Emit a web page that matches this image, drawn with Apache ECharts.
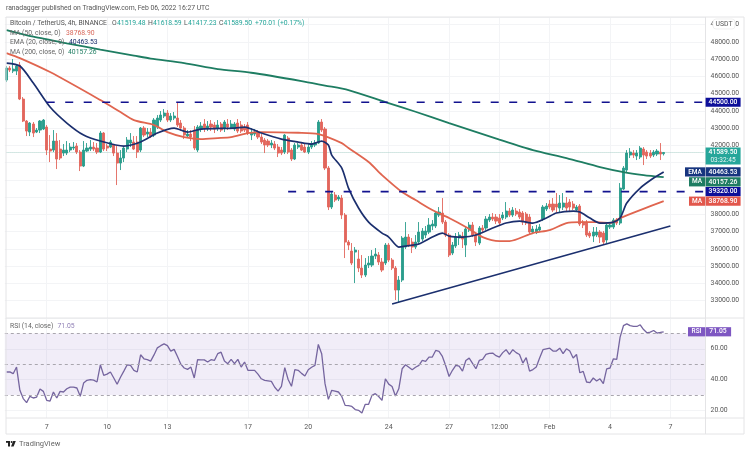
<!DOCTYPE html>
<html>
<head>
<meta charset="utf-8">
<title>BTC/USDT 4h</title>
<script src="https://cdn.jsdelivr.net/npm/echarts@6/dist/echarts.min.js"></script>
<style>
html, body { margin: 0; padding: 0; background: #fff; }
#chart { width: 750px; height: 454px; }
</style>
</head>
<body>
<div id="chart"></div>
<script>
// x axis: one slot per 4h candle, labels only on a few of them
const slotCount = 209;
const xTickIndex = [12, 30, 48, 72, 90, 114, 132, 147, 162, 180, 198];
const xTickText = ['7', '10', '13', '17', '20', '24', '27', '12:00', 'Feb', '4', '7'];
const priceTicks = [33000, 34000, 35000, 36000, 37000, 38000, 42000, 43000, 44000, 45000, 46000, 47000, 48000, 49000];
const rsiTicks = [20, 40, 60];

const opens = [
  45787,46482,46308,46308,46656,44686,43411,42774,43237,42774,
  42890,42948,43064,41789,41731,42252,41789,41557,41557,41731,
  41847,41963,41615,40804,41673,41789,41905,41847,41615,42716,
  41963,41905,42021,41557,40978,41268,41789,42137,42195,42195,
  41731,43006,42658,42774,42600,43064,43469,43701,43875,43469,
  43585,43585,43295,43006,42542,42658,42890,41731,42948,43237,
  43006,43237,43180,43006,43237,43006,43237,43006,42948,43295,
  43180,43064,43180,42600,42658,42716,42484,42310,42252,42021,
  42079,41905,41731,41615,42426,41731,41210,41905,42021,41905,
  41615,41905,42021,42137,43353,42948,40688,38428,39124,38892,
  38950,37965,36400,35879,35821,35416,34894,34489,35068,35068,
  35589,35647,35242,35184,36227,35358,34894,33619,34199,36111,
  36690,36400,36111,36400,36574,36806,36980,37328,37328,37965,
  38081,37559,36806,35763,36169,36632,36748,36227,37096,37386,
  36806,36343,37212,37212,37675,37849,37849,37791,37791,37849,
  38197,37965,38197,38139,38081,38023,37849,36980,36980,37096,
  37733,38313,38602,38602,38602,38371,38428,38660,38718,38602,
  38255,38487,37559,37559,36922,36748,36806,36980,36922,36516,
  37270,37270,37675,37501,39471,40572,41441,41557,41383,41326,
  41789,41615,41557,41441,41499,41615,41519
];
const closes = [
  46482,46366,46424,46598,44686,43411,42832,43295,42716,42890,
  43411,43469,41731,41673,42252,41210,41268,41731,41731,41905,
  41905,41615,40804,41731,41847,41905,41789,41615,42716,41789,
  41847,42195,41557,40978,41268,41847,42310,42310,41789,41615,
  43006,42600,42774,42542,43469,43585,43759,43875,43469,43701,
  43701,43180,43006,42600,42658,42484,41847,43064,43122,43006,
  43122,43064,42948,43180,42890,43353,43064,43237,43237,42832,
  42832,42890,42716,42716,42774,42484,42195,42021,42021,42137,
  41847,41557,41557,42600,41615,41210,42021,42021,41731,41615,
  41905,42079,42137,43353,42890,40688,38428,39182,38834,39008,
  37965,36400,36227,35184,35937,34894,34489,35068,35184,35589,
  35705,35242,34778,36227,35358,34894,33619,34199,36632,36690,
  36227,36111,36400,36980,37038,37038,37386,37444,38081,38139,
  37559,36806,35647,36227,36690,36806,36574,37154,37386,36806,
  36400,37212,37096,37733,37849,37733,37617,37501,37965,38197,
  37965,38255,38023,37849,37559,37501,36980,37154,37154,37270,
  38428,38487,38428,38255,38428,38660,38660,38371,38428,38371,
  38428,37444,37386,36806,36748,36980,36980,36690,36400,37386,
  37386,37675,37501,39529,40688,41557,41615,41441,41557,41847,
  41441,41383,41383,41615,41673,41499,41590
];
const lows = [
  45671,46250,46192,46077,44628,43353,42542,42542,42484,42716,
  42716,42890,41441,41036,41615,40630,41152,41383,41441,41615,
  41731,41499,40514,40746,41615,41673,41673,41499,41557,41673,
  41673,41847,41383,39703,40572,41036,41615,41905,41731,41268,
  41615,42484,42484,42426,42484,42948,43353,43585,43353,43353,
  43469,43064,42832,42368,42426,42252,41731,41615,42774,42774,
  42832,42832,42716,42832,42774,42774,42890,42948,42832,42716,
  42716,42774,42600,42310,42542,42368,42079,41557,41905,41847,
  41731,41326,41441,41499,41499,41094,41152,41789,41673,41557,
  41499,41789,41905,42079,42774,40572,38255,38313,38718,38776,
  37733,35473,35937,35068,34025,34662,34315,34373,34894,34952,
  35416,35068,34662,35068,35242,34778,33040,32924,34083,35995,
  36111,35763,35995,36285,36458,36632,36864,37096,37212,37849,
  37444,36690,35531,35647,36053,36227,36053,35531,36980,36690,
  36169,36227,36922,37096,37559,37617,37444,37328,37675,37733,
  37849,37849,37907,37733,37386,37386,36864,36864,36864,36980,
  37617,38197,38313,38139,38081,38139,38255,38197,38139,38255,
  38139,37328,37212,36690,36632,36400,36690,36343,36285,36343,
  37154,37154,37386,37386,39413,40456,41268,41268,41152,41210,
  40862,41210,41268,41326,41383,41152,41417
];
const highs = [
  46598,46598,47004,46714,46830,44802,43469,43353,43353,43006,
  43469,43527,43180,42600,42890,42716,42310,42079,42252,42137,
  42195,42137,41731,42252,42137,42310,42195,42137,42832,42774,
  42079,42310,42079,41963,41731,41963,42484,42716,42542,42542,
  43064,43122,43006,43006,43585,43759,43991,44106,44049,43875,
  43933,44512,43469,43122,42890,42890,43122,43180,43353,43527,
  43411,43469,43353,43469,43353,43469,43527,43469,43353,43527,
  43411,43237,43353,43006,42948,42890,42658,42426,42368,42310,
  42252,42079,41905,42658,42542,41847,42137,42137,42195,42079,
  42079,42252,42310,43469,43527,43064,40804,39298,39298,39124,
  39124,38081,36516,36343,36111,35937,35647,35473,35589,35937,
  36053,35821,35473,36343,36343,35473,35010,34431,36748,37559,
  36864,36632,36806,37559,37212,37328,37791,37675,38197,38428,
  38950,37675,36922,36400,36922,36980,36980,37270,37559,37559,
  36922,37328,37386,37907,38023,38081,38023,38023,38139,38718,
  38371,38428,38371,38313,38197,38139,38023,37328,37386,37444,
  38545,38660,38834,38950,39240,39124,39240,39008,38892,38776,
  38545,38602,37675,37675,37038,37270,37270,37096,37038,37501,
  37559,37791,37791,39819,40804,41731,41847,41731,41731,41963,
  41905,41731,41731,41731,41789,42137,41619
];

// [candle index, price]
const ma200 = [
  [0,48684],[8,48296],[18,47913],[28,47554],[38,47206],[43,47030],[53,46772],[63,46424],
  [73,46210],[88,45729],[95,45468],[102,45207],[113,44512],[122,43950],[132,43295],
  [147,42339],[157,41731],[167,41268],[177,40746],[184,40456],[190,40283],[196,40157]
];
const ma50 = [
  [0,47351],[4,47061],[13,46250],[28,44628],[34,43933],[38,43469],[44,43180],[48,42774],
  [53,42484],[58,42368],[63,42426],[67,42484],[72,42716],[76,42774],[87,42733],[93,42658],
  [100,42136],[102,41847],[108,41036],[112,40282],[118,39297],[122,38834],[127,38255],
  [132,37791],[137,37270],[142,36690],[147,36458],[150,36458],[157,36922],[162,37096],
  [167,37501],[171,37559],[176,37559],[180,37501],[183,37791],[189,38255],[196,38769]
];
const ema20 = [
  [0,46772],[4,46598],[8,45613],[13,44222],[18,43295],[23,42600],[28,42253],[35,41963],
  [40,42195],[45,42716],[50,43006],[54,42774],[58,42948],[68,43006],[71,43064],[76,42716],
  [82,42368],[87,42195],[91,42079],[94,42253],[96,42021],[97,41441],[100,40688],[102,39529],
  [105,38371],[108,37559],[112,36921],[114,36690],[117,36111],[119,36169],[123,36285],
  [127,36690],[130,36922],[132,36748],[136,36690],[140,36806],[145,37212],[149,37502],
  [153,37617],[157,37502],[161,37792],[164,38081],[169,38197],[171,38139],[174,37792],
  [177,37502],[181,37559],[183,37792],[185,38660],[189,39529],[193,40109],[196,40464]
];
const trendLine = [[115,32810],[198,37330]];
const upperLevel = [[12,44500],[208,44500]];
const lowerLevel = [[84,39320],[208,39320]];
const lastPrice = 41589.5;

const rsiValues = [
  44.9,45,43.8,48.1,33,27.6,25,29.1,28,28.6,
  33.8,32.3,26.5,26,31.9,28,32.3,31.9,34,35.1,
  35.1,34.5,29.1,37.7,39.5,39.9,39.6,38.4,49.6,42.7,
  43.5,44.9,41,36.9,41.5,45.5,49.6,49.2,46,44.9,
  56.1,53.5,53,52,56,60.6,62,63.2,62,58.5,
  59.6,55,50,47.5,46.6,48.1,41,53,52.8,52.8,
  51.4,52.9,52.4,56.8,57.8,52,50.3,53.1,50.3,53.1,
  48.1,51.4,46,46,46,43.5,40.5,39.5,39.2,38.8,
  35,32.5,35.6,47.7,40,35.6,46.4,46,44,42.3,
  46.4,48,49.2,62.8,56.8,37.3,27.1,33,32.5,31.9,
  29,23.2,23,22.5,20.5,20,18.3,23.9,23.9,29.7,
  30.8,29,26.5,40.5,37,35.5,29.3,34,47,49.6,
  48,46.4,48,49.2,52.4,51.8,54.6,54.6,58.9,58.3,
  55,49,42,46,49.2,48.7,45.5,52.4,53.9,50.5,
  47,52.4,53.1,56.3,57,57.2,55.5,54.6,57.5,59.4,
  56.3,59.4,57.5,56.3,50.7,54.2,45.5,46.5,48.1,54,
  59.4,60,60.4,58.5,58.5,60.4,56.8,60,58.5,54,
  56.3,44.4,45.3,38.4,38,41,39,40.5,37.3,47,
  47.5,53.5,53.1,67.6,75,76.2,75,74.5,74.5,75.6,
  72.5,70.4,70.8,71.9,70.2,70.6,71.05
];
const rsiLevels = [70, 50, 30];

const UP = '#2a9d8c';
const DOWN = '#e2665c';
const NAVY = '#1b2f6e';
const RED_MA = '#e0654f';
const GREEN_MA = '#1e7d62';
const DASH_BLUE = '#12128f';
const GRID = '#f3f4f6';
const FRAME = '#e4e4e6';
const FONT = 'Roboto, sans-serif';

const categories = Array.from({ length: slotCount }, (_, i) => String(i));
const candleData = opens.map((o, i) => [o, closes[i], lows[i], highs[i]]);
const xGridLines = xTickIndex.map(i => ({ xAxis: i }));

const chart = echarts.init(document.getElementById('chart'), null, { renderer: 'canvas' });

function lineSeries(data, color, width, extra) {
  return Object.assign({
    type: 'line',
    data: data,
    showSymbol: false,
    symbol: 'none',
    silent: true,
    lineStyle: { color: color, width: width },
    z: 4
  }, extra || {});
}

function gridMarks(data) {
  return {
    silent: true,
    symbol: 'none',
    label: { show: false },
    lineStyle: { color: GRID, width: 1, type: 'solid' },
    data: data,
    z: 0
  };
}

chart.setOption({
  animation: false,
  backgroundColor: '#fff',
  grid: [
    { left: 4.8, top: 17, width: 700.8, height: 301 },
    { left: 4.8, top: 318, width: 700.8, height: 100 }
  ],
  xAxis: [
    {
      type: 'category', gridIndex: 0, data: categories, boundaryGap: true,
      axisLine: { show: false }, axisTick: { show: false }, axisLabel: { show: false }, splitLine: { show: false }
    },
    {
      type: 'category', gridIndex: 1, data: categories, boundaryGap: true,
      axisLine: { show: false }, axisTick: { show: false }, splitLine: { show: false },
      axisLabel: {
        color: '#555', fontFamily: FONT, fontSize: 7, margin: 6, hideOverlap: false,
        interval: index => xTickIndex.includes(index),
        formatter: (value, index) => xTickText[xTickIndex.indexOf(index)] || ''
      }
    }
  ],
  yAxis: [
    {
      type: 'value', gridIndex: 0, position: 'right', min: 32000, max: 49440, interval: 1000,
      axisLine: { show: false }, axisTick: { show: false },
      splitLine: { lineStyle: { color: GRID, width: 1 } },
      axisLabel: {
        color: '#555', fontFamily: FONT, fontSize: 6.8, margin: 5,
        formatter: value => priceTicks.includes(value) ? value.toFixed(2) : ''
      }
    },
    {
      type: 'value', gridIndex: 1, position: 'right', min: 15, max: 80, interval: 5,
      axisLine: { show: false }, axisTick: { show: false }, splitLine: { show: false },
      axisLabel: {
        color: '#555', fontFamily: FONT, fontSize: 6.8, margin: 5,
        formatter: value => rsiTicks.includes(value) ? value.toFixed(2) : ''
      }
    }
  ],
  series: [
    {
      type: 'candlestick',
      data: candleData,
      barWidth: 2.6,
      silent: true,
      itemStyle: { color: UP, color0: DOWN, borderColor: UP, borderColor0: DOWN, borderWidth: 0.9 },
      markLine: Object.assign(gridMarks(xGridLines), { z: 0 }),
      z: 2
    },
    lineSeries([[0, lastPrice], [208, lastPrice]], '#a9cfc8', 1, { lineStyle: { color: '#a9cfc8', width: 1, type: 'dotted' }, z: 1 }),
    lineSeries(ma200, GREEN_MA, 1.8, { smooth: 0.25 }),
    lineSeries(ma50, RED_MA, 1.8, { smooth: 0.25 }),
    lineSeries(ema20, NAVY, 1.7, { smooth: 0.25 }),
    lineSeries(trendLine, NAVY, 1.6),
    lineSeries(upperLevel, DASH_BLUE, 1.6, { lineStyle: { color: DASH_BLUE, width: 1.6, type: [8, 10.5] } }),
    lineSeries(lowerLevel, DASH_BLUE, 1.6, { lineStyle: { color: DASH_BLUE, width: 1.6, type: [8, 10.5] } }),
    {
      type: 'line',
      xAxisIndex: 1,
      yAxisIndex: 1,
      data: rsiValues,
      showSymbol: false,
      symbol: 'none',
      silent: true,
      lineStyle: { color: '#75659f', width: 1.3 },
      markArea: {
        silent: true,
        itemStyle: { color: 'rgba(126,87,194,0.11)' },
        data: [[{ yAxis: rsiLevels[0] }, { yAxis: rsiLevels[2] }]]
      },
      markLine: {
        silent: true,
        symbol: 'none',
        label: { show: false },
        lineStyle: { color: '#a9a6ae', width: 1, type: [3, 3] },
        data: rsiLevels.map(v => ({ yAxis: v }))
      },
      z: 3
    },
    {
      type: 'line',
      xAxisIndex: 1,
      yAxisIndex: 1,
      data: [],
      silent: true,
      markLine: gridMarks(xGridLines.concat(rsiTicks.map(v => ({ yAxis: v }))))
    }
  ]
});

// last-value tags on the price scale follow the axes, shift moves one clear of its neighbour
function tag(value, gridAxis, text, bg, caption, captionX, shift) {
  const y = chart.convertToPixel({ yAxisIndex: gridAxis }, value) + (shift || 0);
  const items = [
    { type: 'rect', shape: { x: 705.6, y: y - 4.6, width: gridAxis ? 25.5 : 35, height: 9.2 }, style: { fill: bg }, z: 20 },
    { type: 'text', style: { x: gridAxis ? 718 : 723, y: y, text: text, fill: '#fff', font: '500 6.8px ' + FONT, align: 'center', verticalAlign: 'middle' }, z: 21 }
  ];
  if (caption) {
    items.push(
      { type: 'rect', shape: { x: captionX, y: y - 4.6, width: 705 - captionX, height: 9.2 }, style: { fill: bg }, z: 20 },
      { type: 'text', style: { x: (captionX + 705) / 2, y: y, text: caption, fill: '#fff', font: '500 6.5px ' + FONT, align: 'center', verticalAlign: 'middle' }, z: 21 }
    );
  }
  return items;
}

function label(x, y, text, fill, size, weight) {
  return {
    type: 'text',
    style: { x: x, y: y, text: text, fill: fill, font: (weight || 400) + ' ' + (size || 6.8) + 'px ' + FONT, verticalAlign: 'middle' },
    z: 22
  };
}

const frameLine = (x1, y1, x2, y2) => ({
  type: 'line', shape: { x1: x1, y1: y1, x2: x2, y2: y2 }, style: { stroke: FRAME, lineWidth: 1 }, z: 15
});

const priceY = chart.convertToPixel({ yAxisIndex: 0 }, lastPrice);
const volGreen = '#26a69a';

chart.setOption({
  graphic: { elements: [].concat(
    frameLine(6, 17, 744, 17), frameLine(6, 17, 6, 434), frameLine(744, 17, 744, 434),
    frameLine(6, 434, 744, 434), frameLine(6, 318, 744, 318), frameLine(6, 418, 744, 418),
    frameLine(705.5, 17, 705.5, 434),
    tag(44500, 0, '44500.00', '#0d0f9a'),
    tag(40157.26, 0, '40157.26', GREEN_MA, 'MA', 689, 4.6),
    tag(40463.53, 0, '40463.53', '#17357f', 'EMA', 685),
    tag(39320, 0, '39320.00', '#0d0f9a'),
    tag(38768.9, 0, '38768.90', '#e2574c', 'MA', 689),
    tag(71.05, 1, '71.05', '#7e57c2', 'RSI', 688),
    [
      { type: 'rect', shape: { x: 705.6, y: priceY - 5, width: 35, height: 17 }, style: { fill: volGreen }, z: 20 },
      { type: 'text', style: { x: 723, y: priceY, text: '41589.50', fill: '#fff', font: '500 6.8px ' + FONT, align: 'center', verticalAlign: 'middle' }, z: 21 },
      { type: 'text', style: { x: 723, y: priceY + 8, text: '03:32:45', fill: '#e8f6f4', font: '400 6.5px ' + FONT, align: 'center', verticalAlign: 'middle' }, z: 21 },
      { type: 'rect', shape: { x: 713, y: 19, width: 22, height: 10, r: 3 }, style: { fill: '#fff', stroke: '#e6e6e6', lineWidth: 0.6 }, z: 20 },
      { type: 'text', style: { x: 724, y: 24.5, text: 'USDT', fill: '#555', font: '400 6.8px ' + FONT, align: 'center', verticalAlign: 'middle' }, z: 21 }
    ],
    label(6, 8, 'ranadagger published on TradingView.com, Feb 06, 2022 16:27 UTC', '#555'),
    label(10, 23.5, 'Bitcoin / TetherUS, 4h, BINANCE', '#555'),
    label(112, 23.5, 'O', '#555'), label(117, 23.5, '41519.48', volGreen),
    label(148, 23.5, 'H', '#555'), label(153, 23.5, '41618.59', volGreen),
    label(184, 23.5, 'L', '#555'), label(188, 23.5, '41417.23', volGreen),
    label(219, 23.5, 'C', '#555'), label(223.5, 23.5, '41589.50', volGreen),
    label(255, 23.5, '+70.01 (+0.17%)', volGreen),
    label(10, 33, 'MA (50, close, 0)', '#666'), label(66, 33, '38768.90', '#d9695c'),
    label(10, 42.5, 'EMA (20, close, 0)', '#666'), label(69, 42.5, '40463.53', NAVY),
    label(10, 52, 'MA (200, close, 0)', '#666'), label(68, 52, '40157.26', GREEN_MA),
    label(10, 326.5, 'RSI (14, close)', '#666'), label(57.5, 326.5, '71.05', '#8f7fb5'),
    label(19, 444, 'TradingView', '#666', 7.5),
    [
      { type: 'rect', shape: { x: 6, y: 441, width: 4, height: 1.8 }, style: { fill: '#222' }, z: 22 },
      { type: 'rect', shape: { x: 8, y: 441, width: 2, height: 5.5 }, style: { fill: '#222' }, z: 22 },
      { type: 'circle', shape: { cx: 11.6, cy: 442, r: 1 }, style: { fill: '#222' }, z: 22 },
      { type: 'polygon', shape: { points: [[13.2, 441], [15.8, 441], [13.6, 446.5], [11, 446.5]] }, style: { fill: '#222' }, z: 22 }
    ]
  ) }
});
</script>
</body>
</html>
